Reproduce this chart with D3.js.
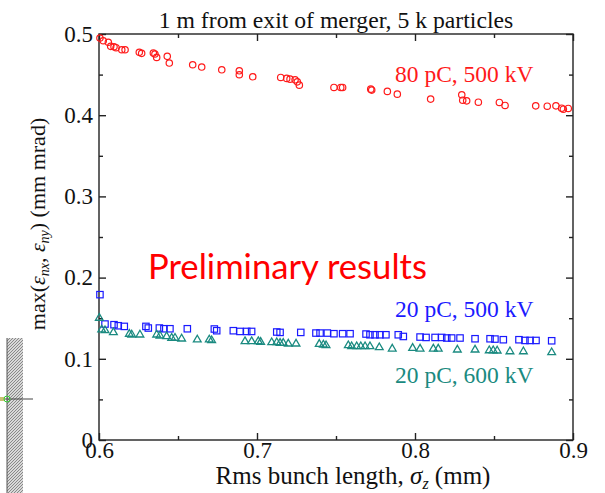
<!DOCTYPE html>
<html>
<head>
<meta charset="utf-8">
<script src="https://cdn.jsdelivr.net/npm/d3@7"></script>
<style>
  html, body { margin: 0; padding: 0; background: #fff; }
  svg { display: block; }
  .serif { font-family: "Liberation Serif", "DejaVu Serif", serif; }
</style>
</head>
<body>
<div id="chart"></div>
<script>
// Tick values and labels
const xTicks = [0.6, 0.7, 0.8, 0.9];
const xMinor = [0.65, 0.75, 0.85];
const yTicks = [0, 0.1, 0.2, 0.3, 0.4, 0.5];
const yMinor = [0.05, 0.15, 0.25, 0.35, 0.45];
const yTickLabels = ["0", "0.1", "0.2", "0.3", "0.4", "0.5"];

// 80 pC, 500 kV (red circles)
const sigma80 = [0.6006, 0.6027, 0.6059, 0.6074, 0.6095, 0.6108, 0.6144, 0.6165, 0.6255, 0.627,
  0.6344, 0.6354, 0.6365, 0.6432, 0.6445, 0.6593, 0.665, 0.6777, 0.6888, 0.6888,
  0.6973, 0.715, 0.7188, 0.7209, 0.7241, 0.7255, 0.7268, 0.7487, 0.753, 0.7542,
  0.772, 0.7726, 0.7825, 0.7888, 0.8099, 0.8296, 0.8302, 0.8327, 0.8401, 0.8534,
  0.857, 0.8764, 0.8837, 0.8892, 0.8928, 0.8939, 0.897];
const emit80 = [0.495, 0.4917, 0.4898, 0.4848, 0.4843, 0.4831, 0.4806, 0.4806, 0.4774, 0.4762,
  0.4765, 0.4753, 0.4712, 0.4725, 0.4642, 0.4621, 0.4593, 0.4559, 0.4547, 0.4498,
  0.4473, 0.4465, 0.4453, 0.4444, 0.4436, 0.4411, 0.437, 0.4342, 0.4342, 0.4342,
  0.4321, 0.4309, 0.4293, 0.4259, 0.4198, 0.4251, 0.4185, 0.4177, 0.416, 0.4157,
  0.412, 0.4115, 0.4111, 0.4115, 0.4086, 0.4074, 0.4083];

// 20 pC, 500 kV (blue squares)
const sigma20a = [0.6006, 0.6038, 0.6095, 0.6122, 0.616, 0.6297, 0.6312, 0.6382, 0.6411, 0.6449,
  0.6559, 0.673, 0.6745, 0.685, 0.6892, 0.6935, 0.6966, 0.7125, 0.7146, 0.7277,
  0.7373, 0.7399, 0.7445, 0.7487, 0.7542, 0.7589, 0.769, 0.7715, 0.7747, 0.7778,
  0.7816, 0.7894, 0.7926, 0.8032, 0.807, 0.8127, 0.8169, 0.8201, 0.8232, 0.8285,
  0.838, 0.8475, 0.8506, 0.8559, 0.8658, 0.8696, 0.8728, 0.8766, 0.8865];
const emit20a = [0.179, 0.1428, 0.142, 0.1407, 0.1399, 0.1399, 0.1379, 0.1379, 0.137, 0.137,
  0.137, 0.1367, 0.1346, 0.1346, 0.1337, 0.1337, 0.1337, 0.133, 0.1325, 0.1325,
  0.1317, 0.1317, 0.1317, 0.1309, 0.1309, 0.1309, 0.1305, 0.1296, 0.1296, 0.1296,
  0.1296, 0.1296, 0.1275, 0.1268, 0.1263, 0.1263, 0.1263, 0.1256, 0.1256, 0.1256,
  0.1247, 0.1247, 0.1243, 0.1235, 0.1235, 0.1226, 0.1226, 0.1226, 0.1222];

// 20 pC, 600 kV (teal triangles)
const sigma20b = [0.6002, 0.6017, 0.6038, 0.6091, 0.6192, 0.6207, 0.6259, 0.6365, 0.6386, 0.6428,
  0.646, 0.6481, 0.6523, 0.6622, 0.6698, 0.6713, 0.6924, 0.6966, 0.7008, 0.7023,
  0.7093, 0.7125, 0.7146, 0.7166, 0.7198, 0.7247, 0.7394, 0.742, 0.7437, 0.7578,
  0.7599, 0.7631, 0.7657, 0.7684, 0.7715, 0.7774, 0.7856, 0.7985, 0.8032, 0.8116,
  0.8147, 0.8268, 0.838, 0.847, 0.8495, 0.852, 0.8601, 0.8686, 0.8865];
const emit20b = [0.1502, 0.1358, 0.1349, 0.1325, 0.1305, 0.1296, 0.1296, 0.1296, 0.1284, 0.1275,
  0.1256, 0.1256, 0.1247, 0.1235, 0.1235, 0.1226, 0.1214, 0.1214, 0.1214, 0.1206,
  0.1201, 0.1201, 0.1194, 0.1194, 0.1185, 0.1185, 0.1181, 0.1173, 0.1164, 0.1164,
  0.1152, 0.1152, 0.1152, 0.1152, 0.1152, 0.114, 0.1123, 0.1132, 0.1123, 0.1123,
  0.1123, 0.1111, 0.1111, 0.1102, 0.1102, 0.1099, 0.109, 0.109, 0.1078];

const W = 605, H = 493;
const svg = d3.select("#chart").append("svg").attr("width", W).attr("height", H);

const x = d3.scaleLinear().domain([0.6, 0.9]).range([99, 573]);
const y = d3.scaleLinear().domain([0, 0.5]).range([440, 34]);

// stray slide artifact at lower left
const defs = svg.append("defs");
const pat = defs.append("pattern").attr("id", "hatch").attr("width", 3).attr("height", 3)
  .attr("patternUnits", "userSpaceOnUse");
pat.append("rect").attr("width", 3).attr("height", 3).attr("fill", "#d8d8d8");
pat.append("path").attr("d", "M0,3 L3,0").attr("stroke", "#888").attr("stroke-width", 1);
svg.append("rect").attr("x", 7).attr("y", 338).attr("width", 16).attr("height", 160)
  .attr("fill", "url(#hatch)");
svg.append("line").attr("x1", 7).attr("x2", 7).attr("y1", 338).attr("y2", 493)
  .attr("stroke", "#555").attr("stroke-width", 1);
svg.append("line").attr("x1", 0).attr("x2", 33).attr("y1", 399).attr("y2", 399)
  .attr("stroke", "#444").attr("stroke-width", 1);
svg.append("rect").attr("x", 0).attr("y", 397).attr("width", 5).attr("height", 4).attr("fill", "#c8c070");
svg.append("circle").attr("cx", 7).attr("cy", 399).attr("r", 3)
  .attr("fill", "none").attr("stroke", "#3c3").attr("stroke-width", 1);

// frame
svg.append("rect").attr("x", x(0.6)).attr("y", y(0.5))
  .attr("width", x(0.9) - x(0.6)).attr("height", y(0) - y(0.5))
  .attr("fill", "none").attr("stroke", "#222").attr("stroke-width", 1.4);

const axisColor = "#222";
function styleAxis(g, labels) {
  g.select(".domain").remove();
  g.selectAll(".tick line").attr("stroke", axisColor).attr("stroke-width", 1.4);
  g.selectAll(".tick text").attr("fill", "#111").attr("class", "serif")
    .style("font-size", "23px");
  if (!labels) g.selectAll(".tick text").remove();
}

// major ticks
svg.append("g").attr("transform", `translate(0,${y(0)})`)
  .call(d3.axisBottom(x).tickValues(xTicks).tickSize(-7).tickPadding(2).tickFormat(d3.format(".1f")))
  .call(g => styleAxis(g, true));
svg.append("g").attr("transform", `translate(0,${y(0.5)})`)
  .call(d3.axisTop(x).tickValues(xTicks).tickSize(-7))
  .call(g => styleAxis(g, false));
svg.append("g").attr("transform", `translate(${x(0.6)},0)`)
  .call(d3.axisLeft(y).tickValues(yTicks).tickSize(-7).tickPadding(6)
    .tickFormat((d, i) => yTickLabels[i]))
  .call(g => styleAxis(g, true));
svg.append("g").attr("transform", `translate(${x(0.9)},0)`)
  .call(d3.axisRight(y).tickValues(yTicks).tickSize(-7))
  .call(g => styleAxis(g, false));

// minor ticks
svg.append("g").attr("transform", `translate(0,${y(0)})`)
  .call(d3.axisBottom(x).tickValues(xMinor).tickSize(-4)).call(g => styleAxis(g, false));
svg.append("g").attr("transform", `translate(0,${y(0.5)})`)
  .call(d3.axisTop(x).tickValues(xMinor).tickSize(-4)).call(g => styleAxis(g, false));
svg.append("g").attr("transform", `translate(${x(0.6)},0)`)
  .call(d3.axisLeft(y).tickValues(yMinor).tickSize(-4)).call(g => styleAxis(g, false));
svg.append("g").attr("transform", `translate(${x(0.9)},0)`)
  .call(d3.axisRight(y).tickValues(yMinor).tickSize(-4)).call(g => styleAxis(g, false));

// series
const red = "#ff1a1a", blue = "#1a1aff", teal = "#1a8a80";

svg.append("g").selectAll("circle").data(d3.zip(sigma80, emit80)).join("circle")
  .attr("cx", d => x(d[0])).attr("cy", d => y(d[1])).attr("r", 3.2)
  .attr("fill", "none").attr("stroke", red).attr("stroke-width", 1.2);

svg.append("g").selectAll("rect").data(d3.zip(sigma20a, emit20a)).join("rect")
  .attr("x", d => x(d[0]) - 3.2).attr("y", d => y(d[1]) - 3.2)
  .attr("width", 6.4).attr("height", 6.4)
  .attr("fill", "none").attr("stroke", blue).attr("stroke-width", 1.2);

const tri = d3.symbol().type(d3.symbolTriangle).size(26);
svg.append("g").selectAll("path").data(d3.zip(sigma20b, emit20b)).join("path")
  .attr("transform", d => `translate(${x(d[0])},${y(d[1])})`)
  .attr("d", tri)
  .attr("fill", "none").attr("stroke", teal).attr("stroke-width", 1.3);

// series labels
const lab = (t, yy, c) => svg.append("text").attr("class", "serif")
  .attr("x", 395).attr("y", yy).attr("fill", c).style("font-size", "23.5px").text(t);
lab("80 pC, 500 kV", 82, red);
lab("20 pC, 500 kV", 317, blue);
lab("20 pC, 600 kV", 383, teal);

// title
svg.append("text").attr("class", "serif").attr("x", 336).attr("y", 28)
  .attr("text-anchor", "middle").attr("fill", "#111").style("font-size", "23.7px")
  .text("1 m from exit of merger, 5 k particles");

// x label
const xl = svg.append("text").attr("class", "serif").attr("x", 353).attr("y", 484)
  .attr("text-anchor", "middle").attr("fill", "#111").style("font-size", "25px");
xl.append("tspan").text("Rms bunch length, ");
xl.append("tspan").style("font-style", "italic").text("σ");
xl.append("tspan").style("font-style", "italic").style("font-size", "16px").attr("dy", 5).text("z");
xl.append("tspan").attr("dy", -5).text(" (mm)");

// y label
const yl = svg.append("text").attr("class", "serif")
  .attr("transform", "translate(45,224) rotate(-90)")
  .attr("text-anchor", "middle").attr("fill", "#111").style("font-size", "22px");
yl.append("tspan").text("max(");
yl.append("tspan").style("font-style", "italic").text("ε");
yl.append("tspan").style("font-style", "italic").style("font-size", "14px").attr("dy", 4).text("nx");
yl.append("tspan").attr("dy", -4).text(", ");
yl.append("tspan").style("font-style", "italic").text("ε");
yl.append("tspan").style("font-style", "italic").style("font-size", "14px").attr("dy", 4).text("ny");
yl.append("tspan").attr("dy", -4).text(") (mm mrad)");

// overlay stamp
svg.append("text").attr("x", 148).attr("y", 279)
  .attr("fill", "#ff0000").style("font-family", "Lato, 'Open Sans', sans-serif")
  .style("font-size", "34px").attr("textLength", 279).attr("lengthAdjust", "spacingAndGlyphs")
  .text("Preliminary results");
</script>
</body>
</html>
